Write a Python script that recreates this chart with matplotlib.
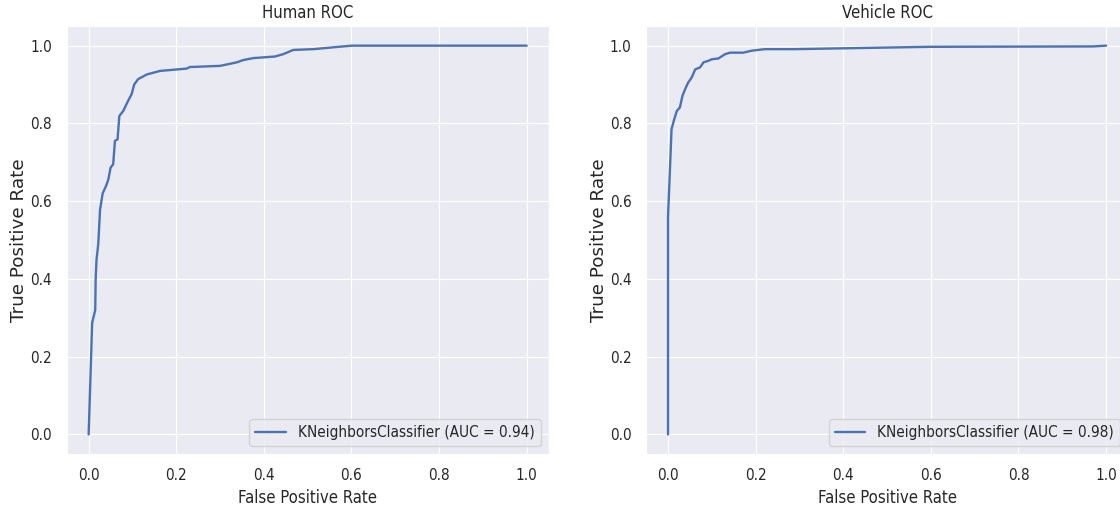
"""
ROC curves for the KNeighbors human / vehicle classifiers.
"""

import matplotlib
matplotlib.use("Agg")
import matplotlib.pyplot as plt
from matplotlib.font_manager import FontProperties
import seaborn as sns

# Human ROC
human_fpr = [0.0, 0.008, 0.015, 0.016, 0.018, 0.022, 0.026, 0.032, 0.040, 0.045,
             0.050, 0.056, 0.060, 0.066, 0.070, 0.079, 0.090, 0.098, 0.104, 0.113,
             0.133, 0.163, 0.224, 0.231, 0.300, 0.338, 0.353, 0.376, 0.425, 0.444,
             0.467, 0.513, 0.600, 1.0]
human_tpr = [0.0, 0.287, 0.320, 0.400, 0.450, 0.490, 0.578, 0.620, 0.640, 0.656,
             0.686, 0.695, 0.755, 0.759, 0.819, 0.832, 0.858, 0.875, 0.900, 0.914,
             0.926, 0.935, 0.941, 0.945, 0.948, 0.957, 0.963, 0.968, 0.972, 0.978,
             0.989, 0.991, 1.0, 1.0]
human_auc = 0.94

# Vehicle ROC
vehicle_fpr = [0.0, 0.0, 0.005, 0.008, 0.014, 0.020, 0.027, 0.033, 0.039, 0.046,
               0.054, 0.062, 0.073, 0.081, 0.092, 0.100, 0.115, 0.130, 0.142, 0.172,
               0.191, 0.221, 0.290, 0.598, 0.970, 1.0]
vehicle_tpr = [0.0, 0.560, 0.699, 0.785, 0.810, 0.832, 0.841, 0.871, 0.888, 0.905,
               0.918, 0.939, 0.944, 0.957, 0.961, 0.965, 0.967, 0.978, 0.982, 0.982,
               0.987, 0.991, 0.991, 0.997, 0.998, 1.0]
vehicle_auc = 0.98

titles = ["Human ROC", "Vehicle ROC"]
model_name = "KNeighborsClassifier"
ticks = [0.0, 0.2, 0.4, 0.6, 0.8, 1.0]

sns.set_style("darkgrid")
plt.rcParams["font.family"] = ["DejaVu Sans"]
plt.rcParams["font.stretch"] = "condensed"

# the y label is drawn in the regular (wide) face
ylabel_font = FontProperties(family="DejaVu Sans", stretch="normal", size=13.2)

fig = plt.figure(figsize=(11.2, 5.12), dpi=100)
ax_left = fig.add_axes([0.0596, 0.1135, 0.4302, 0.8353])
ax_right = fig.add_axes([0.5769, 0.1135, 0.4302, 0.8353])

curves = [(human_fpr, human_tpr, human_auc), (vehicle_fpr, vehicle_tpr, vehicle_auc)]

for ax, title, (fpr, tpr, auc) in zip([ax_left, ax_right], titles, curves):
    ax.plot(fpr, tpr, color="#4C72B0", linewidth=1.7,
            label=f"{model_name} (AUC = {auc:.2f})")
    ax.set_xlim(-0.05, 1.05)
    ax.set_ylim(-0.05, 1.05)
    ax.set_xticks(ticks)
    ax.set_yticks(ticks)
    ax.tick_params(labelsize=11, pad=7, colors=".15")
    ax.set_title(title, fontsize=12, color=".15")
    ax.set_xlabel("False Positive Rate", fontsize=12, color=".15")
    ax.set_ylabel("True Positive Rate", fontproperties=ylabel_font, color=".15",
                  labelpad=1.5)
    ax.legend(loc="lower right", fontsize=11)

fig.savefig("out.png", dpi=100)
